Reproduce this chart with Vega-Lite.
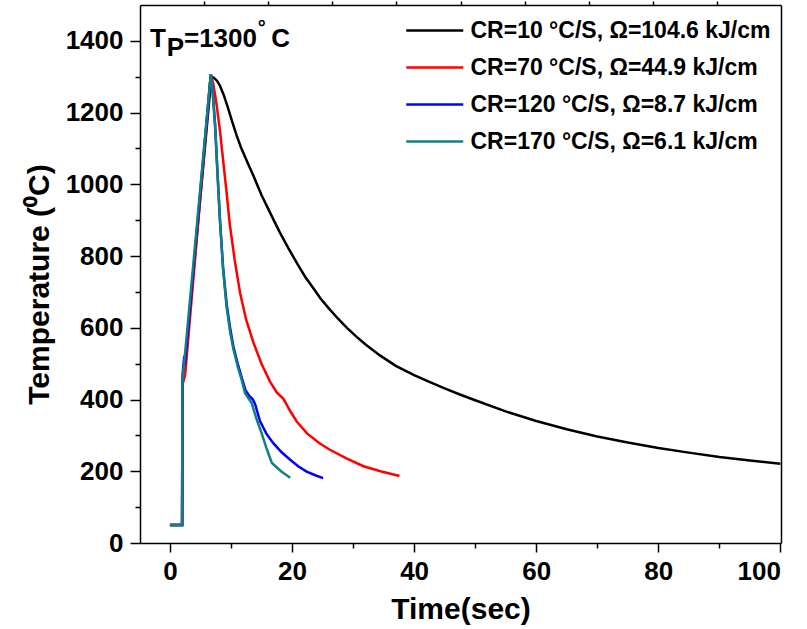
{
  "$schema": "https://vega.github.io/schema/vega-lite/v6.json",
  "width": 641,
  "height": 538,
  "autosize": "none",
  "padding": {"left": 140, "top": 5, "right": 26, "bottom": 86},
  "background": "white",
  "config": {
    "view": {"stroke": null},
    "font": "Liberation Sans",
    "axis": {
      "grid": false,
      "domainColor": "black",
      "domainWidth": 1.5,
      "tickColor": "black",
      "tickWidth": 1.5,
      "labelColor": "black",
      "labelFont": "Liberation Sans",
      "labelFontWeight": "bold",
      "labelFontSize": 26,
      "titleColor": "black",
      "titleFont": "Liberation Sans",
      "titleFontWeight": "bold",
      "titleFontSize": 30
    }
  },
  "datasets": {
    "curves": [
      {"series": "CR=10 °C/S, Ω=104.6 kJ/cm", "t": 0, "temp": 50},
      {"series": "CR=10 °C/S, Ω=104.6 kJ/cm", "t": 2, "temp": 50},
      {"series": "CR=10 °C/S, Ω=104.6 kJ/cm", "t": 2.05, "temp": 450},
      {"series": "CR=10 °C/S, Ω=104.6 kJ/cm", "t": 2.4, "temp": 485},
      {"series": "CR=10 °C/S, Ω=104.6 kJ/cm", "t": 6.8, "temp": 1300},
      {"series": "CR=10 °C/S, Ω=104.6 kJ/cm", "t": 7.2, "temp": 1297},
      {"series": "CR=10 °C/S, Ω=104.6 kJ/cm", "t": 7.7, "temp": 1289},
      {"series": "CR=10 °C/S, Ω=104.6 kJ/cm", "t": 8.2, "temp": 1275},
      {"series": "CR=10 °C/S, Ω=104.6 kJ/cm", "t": 8.8, "temp": 1250},
      {"series": "CR=10 °C/S, Ω=104.6 kJ/cm", "t": 9.5, "temp": 1214},
      {"series": "CR=10 °C/S, Ω=104.6 kJ/cm", "t": 10.2, "temp": 1175},
      {"series": "CR=10 °C/S, Ω=104.6 kJ/cm", "t": 10.9, "temp": 1138},
      {"series": "CR=10 °C/S, Ω=104.6 kJ/cm", "t": 11.6, "temp": 1105},
      {"series": "CR=10 °C/S, Ω=104.6 kJ/cm", "t": 12.3, "temp": 1077},
      {"series": "CR=10 °C/S, Ω=104.6 kJ/cm", "t": 13.0, "temp": 1050},
      {"series": "CR=10 °C/S, Ω=104.6 kJ/cm", "t": 13.7, "temp": 1023},
      {"series": "CR=10 °C/S, Ω=104.6 kJ/cm", "t": 15, "temp": 970},
      {"series": "CR=10 °C/S, Ω=104.6 kJ/cm", "t": 16.4, "temp": 921},
      {"series": "CR=10 °C/S, Ω=104.6 kJ/cm", "t": 18, "temp": 866},
      {"series": "CR=10 °C/S, Ω=104.6 kJ/cm", "t": 19.4, "temp": 822},
      {"series": "CR=10 °C/S, Ω=104.6 kJ/cm", "t": 21, "temp": 775},
      {"series": "CR=10 °C/S, Ω=104.6 kJ/cm", "t": 22.2, "temp": 741},
      {"series": "CR=10 °C/S, Ω=104.6 kJ/cm", "t": 23.5, "temp": 710},
      {"series": "CR=10 °C/S, Ω=104.6 kJ/cm", "t": 24.7, "temp": 681},
      {"series": "CR=10 °C/S, Ω=104.6 kJ/cm", "t": 26, "temp": 655},
      {"series": "CR=10 °C/S, Ω=104.6 kJ/cm", "t": 27.5, "temp": 626},
      {"series": "CR=10 °C/S, Ω=104.6 kJ/cm", "t": 29, "temp": 600},
      {"series": "CR=10 °C/S, Ω=104.6 kJ/cm", "t": 30.5, "temp": 576},
      {"series": "CR=10 °C/S, Ω=104.6 kJ/cm", "t": 32, "temp": 554},
      {"series": "CR=10 °C/S, Ω=104.6 kJ/cm", "t": 34.4, "temp": 523},
      {"series": "CR=10 °C/S, Ω=104.6 kJ/cm", "t": 37, "temp": 494},
      {"series": "CR=10 °C/S, Ω=104.6 kJ/cm", "t": 40, "temp": 468},
      {"series": "CR=10 °C/S, Ω=104.6 kJ/cm", "t": 42.5, "temp": 449},
      {"series": "CR=10 °C/S, Ω=104.6 kJ/cm", "t": 45, "temp": 431},
      {"series": "CR=10 °C/S, Ω=104.6 kJ/cm", "t": 47.5, "temp": 414},
      {"series": "CR=10 °C/S, Ω=104.6 kJ/cm", "t": 50, "temp": 398},
      {"series": "CR=10 °C/S, Ω=104.6 kJ/cm", "t": 55, "temp": 367},
      {"series": "CR=10 °C/S, Ω=104.6 kJ/cm", "t": 60, "temp": 340},
      {"series": "CR=10 °C/S, Ω=104.6 kJ/cm", "t": 65, "temp": 317},
      {"series": "CR=10 °C/S, Ω=104.6 kJ/cm", "t": 70, "temp": 297},
      {"series": "CR=10 °C/S, Ω=104.6 kJ/cm", "t": 75, "temp": 280},
      {"series": "CR=10 °C/S, Ω=104.6 kJ/cm", "t": 80, "temp": 265},
      {"series": "CR=10 °C/S, Ω=104.6 kJ/cm", "t": 85, "temp": 252},
      {"series": "CR=10 °C/S, Ω=104.6 kJ/cm", "t": 90, "temp": 240},
      {"series": "CR=10 °C/S, Ω=104.6 kJ/cm", "t": 95, "temp": 230},
      {"series": "CR=10 °C/S, Ω=104.6 kJ/cm", "t": 100, "temp": 221},

      {"series": "CR=70 °C/S, Ω=44.9 kJ/cm", "t": 0, "temp": 50},
      {"series": "CR=70 °C/S, Ω=44.9 kJ/cm", "t": 2, "temp": 50},
      {"series": "CR=70 °C/S, Ω=44.9 kJ/cm", "t": 2.05, "temp": 440},
      {"series": "CR=70 °C/S, Ω=44.9 kJ/cm", "t": 2.5, "temp": 470},
      {"series": "CR=70 °C/S, Ω=44.9 kJ/cm", "t": 6.7, "temp": 1307},
      {"series": "CR=70 °C/S, Ω=44.9 kJ/cm", "t": 7.1, "temp": 1280},
      {"series": "CR=70 °C/S, Ω=44.9 kJ/cm", "t": 7.6, "temp": 1228},
      {"series": "CR=70 °C/S, Ω=44.9 kJ/cm", "t": 8.2, "temp": 1150},
      {"series": "CR=70 °C/S, Ω=44.9 kJ/cm", "t": 8.7, "temp": 1070},
      {"series": "CR=70 °C/S, Ω=44.9 kJ/cm", "t": 9.3, "temp": 975},
      {"series": "CR=70 °C/S, Ω=44.9 kJ/cm", "t": 9.8, "temp": 890},
      {"series": "CR=70 °C/S, Ω=44.9 kJ/cm", "t": 10.6, "temp": 790},
      {"series": "CR=70 °C/S, Ω=44.9 kJ/cm", "t": 11.5, "temp": 697},
      {"series": "CR=70 °C/S, Ω=44.9 kJ/cm", "t": 12.5, "temp": 622},
      {"series": "CR=70 °C/S, Ω=44.9 kJ/cm", "t": 13.7, "temp": 558},
      {"series": "CR=70 °C/S, Ω=44.9 kJ/cm", "t": 15, "temp": 500},
      {"series": "CR=70 °C/S, Ω=44.9 kJ/cm", "t": 16.4, "temp": 450},
      {"series": "CR=70 °C/S, Ω=44.9 kJ/cm", "t": 17.5, "temp": 420},
      {"series": "CR=70 °C/S, Ω=44.9 kJ/cm", "t": 18.6, "temp": 402},
      {"series": "CR=70 °C/S, Ω=44.9 kJ/cm", "t": 19.7, "temp": 368},
      {"series": "CR=70 °C/S, Ω=44.9 kJ/cm", "t": 20.8, "temp": 338},
      {"series": "CR=70 °C/S, Ω=44.9 kJ/cm", "t": 22.5, "temp": 305},
      {"series": "CR=70 °C/S, Ω=44.9 kJ/cm", "t": 24.5, "temp": 278},
      {"series": "CR=70 °C/S, Ω=44.9 kJ/cm", "t": 26.2, "temp": 260},
      {"series": "CR=70 °C/S, Ω=44.9 kJ/cm", "t": 29, "temp": 235},
      {"series": "CR=70 °C/S, Ω=44.9 kJ/cm", "t": 31.7, "temp": 214},
      {"series": "CR=70 °C/S, Ω=44.9 kJ/cm", "t": 34.5, "temp": 200},
      {"series": "CR=70 °C/S, Ω=44.9 kJ/cm", "t": 37.6, "temp": 187},

      {"series": "CR=120 °C/S, Ω=8.7 kJ/cm", "t": 0, "temp": 50},
      {"series": "CR=120 °C/S, Ω=8.7 kJ/cm", "t": 2, "temp": 50},
      {"series": "CR=120 °C/S, Ω=8.7 kJ/cm", "t": 2.05, "temp": 465},
      {"series": "CR=120 °C/S, Ω=8.7 kJ/cm", "t": 2.3, "temp": 512},
      {"series": "CR=120 °C/S, Ω=8.7 kJ/cm", "t": 2.5, "temp": 505},
      {"series": "CR=120 °C/S, Ω=8.7 kJ/cm", "t": 6.7, "temp": 1307},
      {"series": "CR=120 °C/S, Ω=8.7 kJ/cm", "t": 7.0, "temp": 1260},
      {"series": "CR=120 °C/S, Ω=8.7 kJ/cm", "t": 7.4, "temp": 1165},
      {"series": "CR=120 °C/S, Ω=8.7 kJ/cm", "t": 7.8, "temp": 1030},
      {"series": "CR=120 °C/S, Ω=8.7 kJ/cm", "t": 8.2, "temp": 900},
      {"series": "CR=120 °C/S, Ω=8.7 kJ/cm", "t": 8.7, "temp": 770},
      {"series": "CR=120 °C/S, Ω=8.7 kJ/cm", "t": 9.3, "temp": 665},
      {"series": "CR=120 °C/S, Ω=8.7 kJ/cm", "t": 9.9, "temp": 595},
      {"series": "CR=120 °C/S, Ω=8.7 kJ/cm", "t": 10.4, "temp": 548},
      {"series": "CR=120 °C/S, Ω=8.7 kJ/cm", "t": 11.1, "temp": 500},
      {"series": "CR=120 °C/S, Ω=8.7 kJ/cm", "t": 11.75, "temp": 462},
      {"series": "CR=120 °C/S, Ω=8.7 kJ/cm", "t": 12.4, "temp": 425},
      {"series": "CR=120 °C/S, Ω=8.7 kJ/cm", "t": 13.0, "temp": 410},
      {"series": "CR=120 °C/S, Ω=8.7 kJ/cm", "t": 13.6, "temp": 400},
      {"series": "CR=120 °C/S, Ω=8.7 kJ/cm", "t": 14.0, "temp": 385},
      {"series": "CR=120 °C/S, Ω=8.7 kJ/cm", "t": 14.75, "temp": 340},
      {"series": "CR=120 °C/S, Ω=8.7 kJ/cm", "t": 15.8, "temp": 305},
      {"series": "CR=120 °C/S, Ω=8.7 kJ/cm", "t": 16.9, "temp": 279},
      {"series": "CR=120 °C/S, Ω=8.7 kJ/cm", "t": 18.3, "temp": 253},
      {"series": "CR=120 °C/S, Ω=8.7 kJ/cm", "t": 19.7, "temp": 232},
      {"series": "CR=120 °C/S, Ω=8.7 kJ/cm", "t": 21, "temp": 214},
      {"series": "CR=120 °C/S, Ω=8.7 kJ/cm", "t": 22.4, "temp": 199},
      {"series": "CR=120 °C/S, Ω=8.7 kJ/cm", "t": 23.8, "temp": 189},
      {"series": "CR=120 °C/S, Ω=8.7 kJ/cm", "t": 25.1, "temp": 181},

      {"series": "CR=170 °C/S, Ω=6.1 kJ/cm", "t": 0, "temp": 50},
      {"series": "CR=170 °C/S, Ω=6.1 kJ/cm", "t": 2, "temp": 50},
      {"series": "CR=170 °C/S, Ω=6.1 kJ/cm", "t": 2.05, "temp": 455},
      {"series": "CR=170 °C/S, Ω=6.1 kJ/cm", "t": 2.3, "temp": 495},
      {"series": "CR=170 °C/S, Ω=6.1 kJ/cm", "t": 6.7, "temp": 1307},
      {"series": "CR=170 °C/S, Ω=6.1 kJ/cm", "t": 7.0, "temp": 1260},
      {"series": "CR=170 °C/S, Ω=6.1 kJ/cm", "t": 7.4, "temp": 1165},
      {"series": "CR=170 °C/S, Ω=6.1 kJ/cm", "t": 7.8, "temp": 1030},
      {"series": "CR=170 °C/S, Ω=6.1 kJ/cm", "t": 8.2, "temp": 900},
      {"series": "CR=170 °C/S, Ω=6.1 kJ/cm", "t": 8.7, "temp": 765},
      {"series": "CR=170 °C/S, Ω=6.1 kJ/cm", "t": 9.3, "temp": 655},
      {"series": "CR=170 °C/S, Ω=6.1 kJ/cm", "t": 9.9, "temp": 585},
      {"series": "CR=170 °C/S, Ω=6.1 kJ/cm", "t": 10.4, "temp": 540},
      {"series": "CR=170 °C/S, Ω=6.1 kJ/cm", "t": 11.1, "temp": 492},
      {"series": "CR=170 °C/S, Ω=6.1 kJ/cm", "t": 11.75, "temp": 455},
      {"series": "CR=170 °C/S, Ω=6.1 kJ/cm", "t": 12.3, "temp": 418},
      {"series": "CR=170 °C/S, Ω=6.1 kJ/cm", "t": 12.8, "temp": 405},
      {"series": "CR=170 °C/S, Ω=6.1 kJ/cm", "t": 13.4, "temp": 390},
      {"series": "CR=170 °C/S, Ω=6.1 kJ/cm", "t": 14.2, "temp": 345},
      {"series": "CR=170 °C/S, Ω=6.1 kJ/cm", "t": 15.0, "temp": 307},
      {"series": "CR=170 °C/S, Ω=6.1 kJ/cm", "t": 15.8, "temp": 265},
      {"series": "CR=170 °C/S, Ω=6.1 kJ/cm", "t": 16.7, "temp": 223},
      {"series": "CR=170 °C/S, Ω=6.1 kJ/cm", "t": 18.2, "temp": 200},
      {"series": "CR=170 °C/S, Ω=6.1 kJ/cm", "t": 19.7, "temp": 182}
    ],
    "note": [
      {"t": -3.28, "temp": 1383, "label": "T"},
      {"t": -0.5, "temp": 1358, "label": "P"},
      {"t": 2.3, "temp": 1383, "label": "=1300"},
      {"t": 16.6, "temp": 1383, "label": "C"}
    ],
    "deg": [
      {"t": 14.4, "temp": 1420, "label": "°"}
    ]
  },
  "layer": [
    {
      "data": {"name": "curves"},
      "mark": {"type": "line", "strokeWidth": 2.5, "interpolate": "linear"},
      "encoding": {
        "x": {
          "field": "t", "type": "quantitative",
          "scale": {"domain": [-4.9, 100.1], "nice": false, "zero": false},
          "axis": {"orient": "bottom", "values": [0, 20, 40, 60, 80, 100], "format": "d", "tickSize": 9, "labelPadding": 6, "title": "Time(sec)", "titleBaseline": "alphabetic", "titleY": 75}
        },
        "y": {
          "field": "temp", "type": "quantitative",
          "scale": {"domain": [0, 1500], "nice": false, "zero": false},
          "axis": {"orient": "left", "values": [0, 200, 400, 600, 800, 1000, 1200, 1400], "format": "d", "tickSize": 10, "labelPadding": 7, "title": "Temperature (⁰C)", "titleBaseline": "alphabetic", "titleX": -92, "titleY": 279}
        },
        "color": {
          "field": "series", "type": "nominal",
          "sort": ["CR=10 °C/S, Ω=104.6 kJ/cm", "CR=70 °C/S, Ω=44.9 kJ/cm", "CR=120 °C/S, Ω=8.7 kJ/cm", "CR=170 °C/S, Ω=6.1 kJ/cm"],
          "scale": {
            "domain": ["CR=10 °C/S, Ω=104.6 kJ/cm", "CR=70 °C/S, Ω=44.9 kJ/cm", "CR=120 °C/S, Ω=8.7 kJ/cm", "CR=170 °C/S, Ω=6.1 kJ/cm"],
            "range": ["#000000", "#ff0000", "#0000ff", "#108080"]
          },
          "legend": {
            "orient": "none", "legendX": 293.5, "legendY": 10, "title": null,
            "symbolType": "M-3,0H1", "symbolSize": 812, "symbolStrokeWidth": 2.5,
            "labelFont": "Liberation Sans", "labelFontWeight": "bold", "labelFontSize": 23,
            "labelColor": "black", "labelOffset": 6, "labelLimit": 400, "rowPadding": 9, "padding": 0
          }
        }
      }
    },
    {
      "data": {"name": "curves"},
      "mark": {"type": "point", "opacity": 0},
      "encoding": {
        "x": {"field": "t", "type": "quantitative",
          "axis": {"orient": "bottom", "values": [10, 30, 50, 70, 90], "tickSize": 5, "labels": false, "domain": false, "title": null}},
        "y": {"field": "temp", "type": "quantitative",
          "axis": {"orient": "left", "values": [100, 300, 500, 700, 900, 1100, 1300], "tickSize": 5, "labels": false, "domain": false, "title": null}}
      }
    },
    {
      "data": {"name": "curves"},
      "mark": {"type": "point", "opacity": 0},
      "encoding": {
        "x": {"field": "t", "type": "quantitative",
          "axis": {"orient": "top", "values": [5.6, 16.1, 26.6, 37.1, 47.6, 58.1, 68.6, 79.1, 89.6], "tickSize": 4, "labels": false, "title": null}},
        "y": {"field": "temp", "type": "quantitative",
          "axis": {"orient": "right", "ticks": false, "labels": false, "title": null}}
      }
    },
    {
      "data": {"name": "note"},
      "mark": {"type": "text", "font": "Liberation Sans", "fontWeight": "bold", "fontSize": 26, "align": "left", "baseline": "alphabetic", "color": "black"},
      "encoding": {
        "x": {"field": "t", "type": "quantitative", "axis": null},
        "y": {"field": "temp", "type": "quantitative", "axis": null},
        "text": {"field": "label"}
      }
    },
    {
      "data": {"name": "deg"},
      "mark": {"type": "text", "font": "Liberation Sans", "fontWeight": "bold", "fontSize": 20, "align": "left", "baseline": "alphabetic", "color": "black"},
      "encoding": {
        "x": {"field": "t", "type": "quantitative", "axis": null},
        "y": {"field": "temp", "type": "quantitative", "axis": null},
        "text": {"field": "label"}
      }
    }
  ],
  "resolve": {"axis": {"x": "independent", "y": "independent"}}
}
